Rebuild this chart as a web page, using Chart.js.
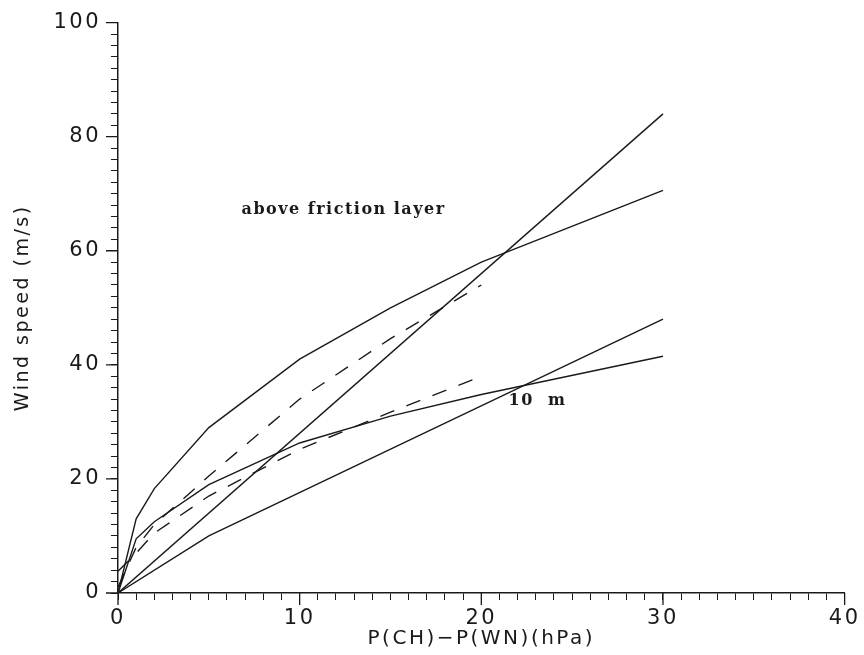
<!DOCTYPE html>
<html>
<head>
<meta charset="utf-8">
<script src="https://cdn.jsdelivr.net/npm/chart.js@4"></script>
<style>
  body { margin: 0; background: #fff; }
  #wrap { width: 864px; height: 655px; }
</style>
</head>
<body>
<div id="wrap"><canvas id="windChart"></canvas></div>
<script>
// pressure difference P(CH)-P(WN) in hPa
const pressureSolid = [0, 1, 2, 5, 10, 15, 20, 30];
const aboveSolid = [0, 13, 18.3, 29, 41, 50, 58, 70.6];
const tenMSolid = [0, 9.5, 12.5, 19, 26.3, 31, 34.8, 41.5];

const pressureDashed = [0, 1, 2, 5, 10, 15, 20];
const aboveDashed = [1, 8, 12, 20.5, 34, 44.6, 54];
const tenMDashed = [3.8, 7, 10.5, 17, 25.2, 31.7, 38];

const steepX = [0, 30];
const steepY = [0, 84];
const shallowX = [0, 5, 30];
const shallowY = [0, 10, 48];

const notes = [
    { text: 'above friction layer', x: 6.8, y: 66.5 },
    { text: '10  m', x: 21.5, y: 33 }
];

const ink = '#1a1a1a';

function pts(xs, ys) {
    return xs.map((x, i) => ({ x: x, y: ys[i] }));
}

function series(xs, ys, dashed) {
    return {
        data: pts(xs, ys),
        borderColor: ink,
        borderWidth: 1.4,
        borderDash: dashed ? [15, 13] : [],
        pointRadius: 0,
        tension: 0,
        fill: false
    };
}

// longer marks on the labelled ticks, and the two text notes
const extras = {
    id: 'extras',
    beforeDraw(chart) {
        chart.ctx.letterSpacing = '2.5px';
    },
    afterDraw(chart) {
        const ctx = chart.ctx;
        const xs = chart.scales.x;
        const ys = chart.scales.y;
        ctx.save();
        ctx.strokeStyle = ink;
        ctx.lineWidth = 1.3;
        ctx.beginPath();
        for (let v = 0; v <= 40; v += 10) {
            const px = xs.getPixelForValue(v);
            ctx.moveTo(px, ys.bottom);
            ctx.lineTo(px, ys.bottom + 12);
        }
        for (let v = 0; v <= 100; v += 20) {
            const py = ys.getPixelForValue(v);
            ctx.moveTo(xs.left, py);
            ctx.lineTo(xs.left - 12, py);
        }
        ctx.stroke();

        ctx.letterSpacing = '1.5px';
        ctx.fillStyle = ink;
        ctx.font = 'bold 16px "DejaVu Serif"';
        ctx.textBaseline = 'alphabetic';
        ctx.textAlign = 'left';
        notes.forEach(n => {
            ctx.fillText(n.text, xs.getPixelForValue(n.x), ys.getPixelForValue(n.y));
        });
        ctx.restore();
    }
};

new Chart(document.getElementById('windChart'), {
    type: 'line',
    data: {
        datasets: [
            series(pressureSolid, aboveSolid, false),
            series(pressureSolid, tenMSolid, false),
            series(pressureDashed, aboveDashed, true),
            series(pressureDashed, tenMDashed, true),
            series(steepX, steepY, false),
            series(shallowX, shallowY, false)
        ]
    },
    options: {
        responsive: true,
        maintainAspectRatio: false,
        animation: false,
        layout: { padding: { top: 20, right: 19, left: 0, bottom: 0 } },
        plugins: { legend: { display: false }, tooltip: { enabled: false } },
        scales: {
            x: {
                type: 'linear',
                min: 0,
                max: 40,
                afterFit: s => { s.height = 62; },
                border: { display: true, color: ink, width: 1.5 },
                grid: { drawOnChartArea: false, drawTicks: true, tickLength: 7, color: ink, tickWidth: 1 },
                ticks: {
                    stepSize: 1,
                    autoSkip: false,
                    maxRotation: 0,
                    padding: 6,
                    color: ink,
                    font: { family: 'DejaVu Sans', size: 21 },
                    callback: v => (v % 10 === 0 ? String(v) : '')
                },
                title: {
                    display: true,
                    text: 'P(CH)\u2212P(WN)(hPa)',
                    color: ink,
                    font: { family: 'DejaVu Sans', size: 20 },
                    padding: { top: 0, bottom: 4 }
                }
            },
            y: {
                min: 0,
                max: 100,
                afterFit: s => { s.width = 118; },
                border: { display: true, color: ink, width: 1.5 },
                grid: { drawOnChartArea: false, drawTicks: true, tickLength: 7, color: ink, tickWidth: 1 },
                ticks: {
                    stepSize: 2,
                    autoSkip: false,
                    padding: 10,
                    color: ink,
                    font: { family: 'DejaVu Sans', size: 21 },
                    callback: v => (v % 20 === 0 ? String(v) : '')
                },
                title: {
                    display: true,
                    text: 'Wind speed (m/s)',
                    color: ink,
                    font: { family: 'DejaVu Sans', size: 19 },
                    padding: { top: 12, bottom: 0 }
                }
            }
        }
    },
    plugins: [extras]
});
</script>
</body>
</html>
